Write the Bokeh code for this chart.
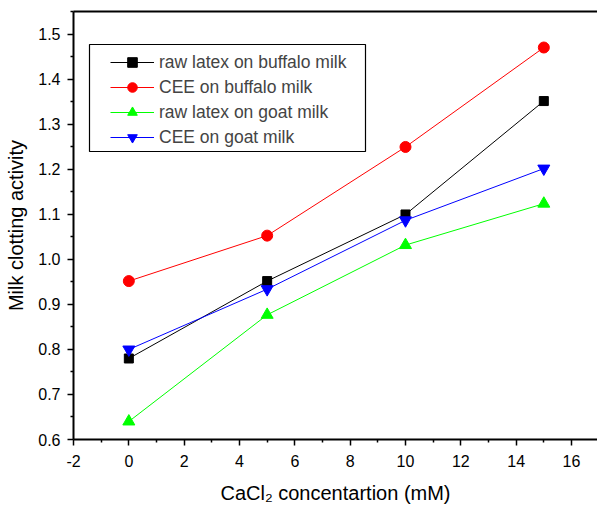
from bokeh.plotting import figure
from bokeh.models import (Range1d, LinearAxis, FixedTicker, PrintfTickFormatter,
                          Legend, LegendItem, BoxAnnotation)
from bokeh.embed import file_html
from bokeh.resources import INLINE

# data
conc = [0, 5, 10, 15]
raw_buffalo = [0.780, 0.952, 1.100, 1.352]
cee_buffalo = [0.952, 1.053, 1.250, 1.471]
raw_goat = [0.640, 0.877, 1.032, 1.124]
cee_goat = [0.800, 0.934, 1.087, 1.202]
x_ticks = [-2, 0, 2, 4, 6, 8, 10, 12, 14, 16]
y_ticks = [0.6, 0.7, 0.8, 0.9, 1.0, 1.1, 1.2, 1.3, 1.4, 1.5]

FONT = "Liberation Sans"

p = figure(width=597, height=506, output_backend="svg", toolbar_location=None,
           x_range=Range1d(-2, 16.94), y_range=Range1d(0.6, 1.551),
           min_border_left=73, min_border_right=0, min_border_top=11,
           min_border_bottom=66, x_axis_type=None, y_axis_type=None)
p.outline_line_color = None
p.grid.visible = False
p.background_fill_color = "white"
p.border_fill_color = "white"

xaxis = LinearAxis(ticker=FixedTicker(ticks=x_ticks, minor_ticks=[v + 1 for v in x_ticks]),
                   formatter=PrintfTickFormatter(format="%d"),
                   axis_label="CaCl\u2082 concentartion (mM)")
yaxis = LinearAxis(ticker=FixedTicker(ticks=y_ticks, minor_ticks=[round(v + 0.05, 2) for v in y_ticks]),
                   formatter=PrintfTickFormatter(format="%.1f"),
                   axis_label="Milk clotting activity")
for ax in (xaxis, yaxis):
    ax.axis_line_width = 2
    ax.axis_line_color = "black"
    ax.major_tick_in = 0
    ax.major_tick_out = 6
    ax.minor_tick_in = 0
    ax.minor_tick_out = 3
    ax.major_tick_line_width = 1.5
    ax.minor_tick_line_width = 1.5
    ax.major_label_text_font = FONT
    ax.major_label_text_font_size = "16px"
    ax.major_label_text_color = "black"
    ax.axis_label_text_font = FONT
    ax.axis_label_text_font_size = "20px"
    ax.axis_label_text_font_style = "normal"
    ax.axis_label_text_color = "black"
xaxis.major_label_standoff = 9
xaxis.axis_label_standoff = 12
yaxis.major_label_standoff = 7
yaxis.axis_label_standoff = 8
p.add_layout(xaxis, "below")
p.add_layout(yaxis, "left")

top = LinearAxis(ticker=FixedTicker(ticks=[]), major_tick_line_color=None,
                 minor_tick_line_color=None, axis_line_width=2)
top.major_label_standoff = 0
p.add_layout(top, "above")

series = [
    ("raw latex on buffalo milk", raw_buffalo, "black", "square", 9),
    ("CEE on buffalo milk", cee_buffalo, "red", "circle", 11),
    ("raw latex on goat milk", raw_goat, "#00ff00", "triangle", 12),
    ("CEE on goat milk", cee_goat, "blue", "inverted_triangle", 12),
]
items = []
for label, ys, color, marker, size in series:
    r1 = p.line(conc, ys, line_color=color, line_width=1)
    r2 = p.scatter(conc, ys, marker=marker, size=size, fill_color=color, line_color=color)
    items.append(LegendItem(label=label, renderers=[r1, r2]))

legend = Legend(items=items, location=(37, 290), padding=0, margin=0,
                border_line_color=None, background_fill_alpha=0,
                glyph_width=44, glyph_height=24, spacing=1, label_standoff=5,
                label_text_font=FONT, label_text_font_size="17.5px", label_height=24)
p.add_layout(legend, "center")

# legend frame (screen units relative to the plot frame, y upward from bottom)
box = BoxAnnotation(left=16, right=292, top=395, bottom=288,
                    left_units="screen", right_units="screen",
                    top_units="screen", bottom_units="screen",
                    fill_color=None, line_color="black", line_width=1.2, line_alpha=1)
p.add_layout(box)

open("out.html", "w").write(file_html(p, INLINE))
